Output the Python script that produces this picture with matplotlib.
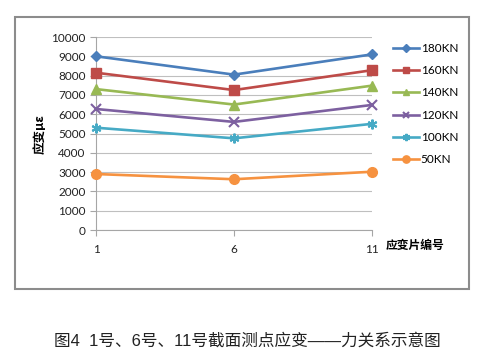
import matplotlib
matplotlib.use("Agg")
import matplotlib.pyplot as plt
from matplotlib.patches import Rectangle

plt.rcParams['font.family'] = ['Lato', 'Noto Sans CJK SC', 'DejaVu Sans']

positions = [1, 6, 11]
x_ticks = [1, 6, 11]
series_names = ['180KN', '160KN', '140KN', '120KN', '100KN', '50KN']
s180 = [9000, 8050, 9100]
s160 = [8150, 7250, 8280]
s140 = [7300, 6500, 7480]
s120 = [6270, 5600, 6480]
s100 = [5300, 4750, 5500]
s50 = [2900, 2630, 3020]
y_ticks = [0, 1000, 2000, 3000, 4000, 5000, 6000, 7000, 8000, 9000, 10000]

series = [s180, s160, s140, s120, s100, s50]
colors = ['#4A7EBB', '#BE4B48', '#98B954', '#7D60A0', '#46AAC5', '#F69240']
markers = ['D', 's', '^', 'x', (6, 2, 0), 'o']
msizes = [5.5, 6.5, 6.5, 6.5, 7, 7]

W, H = 484, 362
fig = plt.figure(figsize=(W / 100, H / 100), dpi=100)
fig.patch.set_facecolor('white')

# outer chart frame
fig.patches.append(Rectangle((15 / W, 1 - 289 / H), (469 - 15) / W, (289 - 17) / H,
                             transform=fig.transFigure, fill=False,
                             edgecolor='#8C8C8C', linewidth=1.5, zorder=0))

ax = fig.add_axes([96 / W, 1 - 230 / H, (372 - 96) / W, (230 - 37) / H])
for s, c, m, ms, name in zip(series, colors, markers, msizes, series_names):
    ax.plot(positions, s, color=c, marker=m, markersize=ms, linewidth=1.9,
            markeredgewidth=1.5 if m in ('x',) or isinstance(m, tuple) else 1.0,
            markeredgecolor=c, label=name, clip_on=False, zorder=3)

ax.set_xlim(1, 11)
ax.set_ylim(0, 10000)
ax.set_xticks(x_ticks)
ax.set_xticklabels([str(t) for t in x_ticks])
ax.set_yticks(y_ticks)
ax.yaxis.grid(True, color='#BFBFBF', linewidth=0.8)
ax.set_axisbelow(True)
for sp in ['top', 'right']:
    ax.spines[sp].set_visible(False)
for sp in ['left', 'bottom']:
    ax.spines[sp].set_color('#A6A6A6')
    ax.spines[sp].set_linewidth(0.8)
ax.tick_params(axis='both', colors='#A6A6A6', labelcolor='#222222', labelsize=8.5,
               length=4, width=0.8)
ax.tick_params(axis='x', pad=6)

fig.text(40 / W, 1 - 134 / H, '应变με', rotation=90, ha='center', va='center',
         fontsize=9, fontweight='bold', family=['Noto Sans CJK SC', 'DejaVu Sans'])
fig.text(386 / W, 1 - 245 / H, '应变片编号', ha='left', va='center',
         fontsize=8.5, fontweight='bold', family=['Noto Sans CJK SC', 'DejaVu Sans'])

ax.legend(loc='upper left', bbox_to_anchor=(393 / W, 1 - 43 / H),
          bbox_transform=fig.transFigure, frameon=False, fontsize=8.5,
          handlelength=2.2, handletextpad=0.15, labelspacing=0.95,
          markerscale=0.75, borderpad=0, borderaxespad=0)

fig.text(247 / W, 1 - 341 / H, '图4  1号、6号、11号截面测点应变——力关系示意图',
         ha='center', va='center', fontsize=12, color='#222222',
         family=['Liberation Sans', 'Noto Sans CJK SC', 'DejaVu Sans'])

fig.savefig('out.png', dpi=100, facecolor='white')
